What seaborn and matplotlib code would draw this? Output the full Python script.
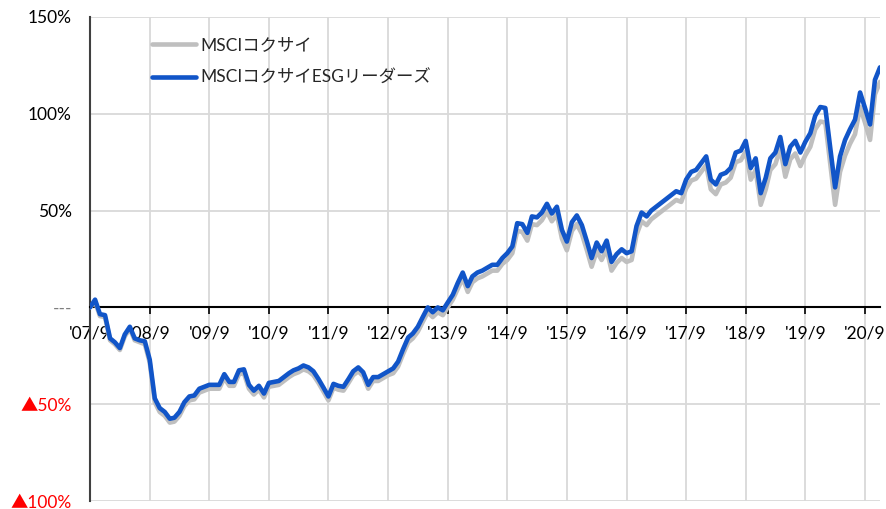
import numpy as np
import pandas as pd
import matplotlib
matplotlib.use("Agg")
import matplotlib.pyplot as plt
import seaborn as sns

# Monthly cumulative returns (%), Sep 2007 = 0
months = pd.date_range("2007-09-30", periods=160, freq="ME")

kokusai = [
    0, 3, -4.5, -5, -17, -19, -22, -15, -11, -17, -18, -19,
    -28.5, -49, -54, -56, -59.5, -59, -56, -51, -48, -47.5, -44, -43,
    -42, -42, -42, -36.5, -40.5, -40.5, -34.5, -34, -42, -45, -42.5, -46.5,
    -41, -40.5, -40, -38, -36, -34.5, -33.5, -32, -33, -35, -39, -43.5,
    -48, -41.5, -42.5, -43, -39, -35, -33, -35.5, -42, -38, -38, -36.5,
    -35, -34, -30.5, -24, -18, -16, -12.5, -7.5, -2.5, -5, -2.5, -4,
    0, 4, 9.5, 15, 8, 13, 15, 16, 17.5, 19, 19, 22.5,
    24.5, 28, 39.5, 39, 34.5, 43, 42.5, 45, 49.5, 44.5, 48, 35.5,
    29.5, 39.5, 43, 38, 29.5, 21, 29, 24.5, 30, 19, 23, 25.5,
    23.5, 24.5, 37.5, 44.5, 42.5, 45.5, 47.5, 49.5, 51.5, 53.5, 55.5, 54.5,
    61.5, 65.5, 66.5, 70, 73.5, 61, 58.5, 63.5, 64.5, 67, 75, 76,
    80.5, 66, 71, 53, 61, 71, 74, 82, 67.5, 76.5, 79.5, 73,
    78.5, 83, 92, 96, 95.5, 75, 53, 70, 78.5, 84.5, 89.5, 103.5,
    95.5, 86.5, 110, 116.5,
]

esg_leaders = [
    0, 4, -3.5, -4, -16, -18, -21, -14, -10, -16, -17, -17.5,
    -27, -47, -52, -54, -57.5, -57, -54, -49, -46, -45.5, -42, -41,
    -40, -40, -40, -34.5, -38.5, -38.5, -32.5, -32, -40, -43, -40.5, -44.5,
    -39, -38.5, -38, -36, -34, -32.5, -31.5, -30, -31, -33, -37, -41.5,
    -46, -39.5, -40.5, -41, -37, -33, -31, -33.5, -40, -36, -36, -34.5,
    -33, -31.5, -28, -21.5, -15.5, -13.5, -10, -5, 0, -2.5, 0, -1.5,
    2.5, 6.5, 12.5, 18, 11, 16, 18, 19, 20.5, 22, 22, 25.5,
    28, 31.5, 43.5, 43, 38.5, 47, 46.5, 49, 53.5, 48.5, 52, 40,
    34, 44, 47.5, 42.5, 34, 25.5, 33.5, 29, 34.5, 23.5, 27.5, 30,
    28, 29, 42, 49, 47, 50, 52, 54, 56, 58, 60, 59,
    66, 70, 71, 74.5, 78, 66, 63.5, 68.5, 69.5, 72, 80, 81,
    86, 72, 77, 59, 67, 77, 80, 88, 74, 83, 86, 80,
    85.5, 90, 99, 103.5, 103, 83, 62, 78, 86.5, 92, 97, 111,
    103, 94.5, 117.5, 124,
]

series_names = ["MSCIコクサイ", "MSCIコクサイESGリーダーズ"]
series_colors = ["#bfbfbf", "#1155c8"]

year_labels = ["'07/9", "'08/9", "'09/9", "'10/9", "'11/9", "'12/9", "'13/9",
               "'14/9", "'15/9", "'16/9", "'17/9", "'18/9", "'19/9", "'20/9"]
y_ticks = [-100, -50, 0, 50, 100, 150]
y_labels = ["▲100%", "▲50%", "---", "50%", "100%", "150%"]
y_label_colors = ["#ff0000", "#ff0000", "#7f7f7f", "black", "black", "black"]

df = pd.DataFrame({
    "date": np.concatenate([months, months]),
    "value": kokusai + esg_leaders,
    "series": [series_names[0]] * len(kokusai) + [series_names[1]] * len(esg_leaders),
})

sns.set_theme(style="white")
plt.rcParams["font.family"] = ["Lato", "Noto Sans CJK JP", "DejaVu Sans"]

W, H = 887, 509
fig = plt.figure(figsize=(W / 100, H / 100), dpi=100)
ax = fig.add_axes([90 / W, 1 - 501 / H, 790 / W, 484 / H])

sns.lineplot(data=df, x="date", y="value", hue="series", hue_order=series_names,
             palette=dict(zip(series_names, series_colors)), linewidth=3.3,
             ax=ax, zorder=3)

ax.set_xlim(months[0], months[-1])
ax.set_ylim(-100, 150)
ax.set_xticks(months[::12])
ax.set_xticklabels(year_labels)
ax.set_yticks(y_ticks)
ax.set_yticklabels(y_labels)
for lab, col in zip(ax.get_yticklabels(), y_label_colors):
    lab.set_color(col)
ax.set_xlabel("")
ax.set_ylabel("")

ax.grid(True, color="#d9d9d9", linewidth=1.3)
ax.set_axisbelow(True)

for side in ("top", "right"):
    ax.spines[side].set_visible(False)
ax.spines["left"].set_color("#404040")
ax.spines["left"].set_linewidth(1.5)
ax.spines["bottom"].set_position(("data", 0))
ax.spines["bottom"].set_color("black")
ax.spines["bottom"].set_linewidth(1.5)

ax.tick_params(axis="x", direction="out", length=5, width=1.2, color="black",
               pad=8, labelsize=12.5, labelcolor="black", bottom=True)
ax.tick_params(axis="y", length=0, pad=13, labelsize=12.5)

handles, labels = ax.get_legend_handles_labels()
ax.legend(handles, labels, loc="upper left", bbox_to_anchor=(0.059, 0.99),
          frameon=False, fontsize=12.5, handlelength=2.5, handletextpad=0.3,
          labelspacing=0.95)

fig.savefig("out.png", dpi=100)
